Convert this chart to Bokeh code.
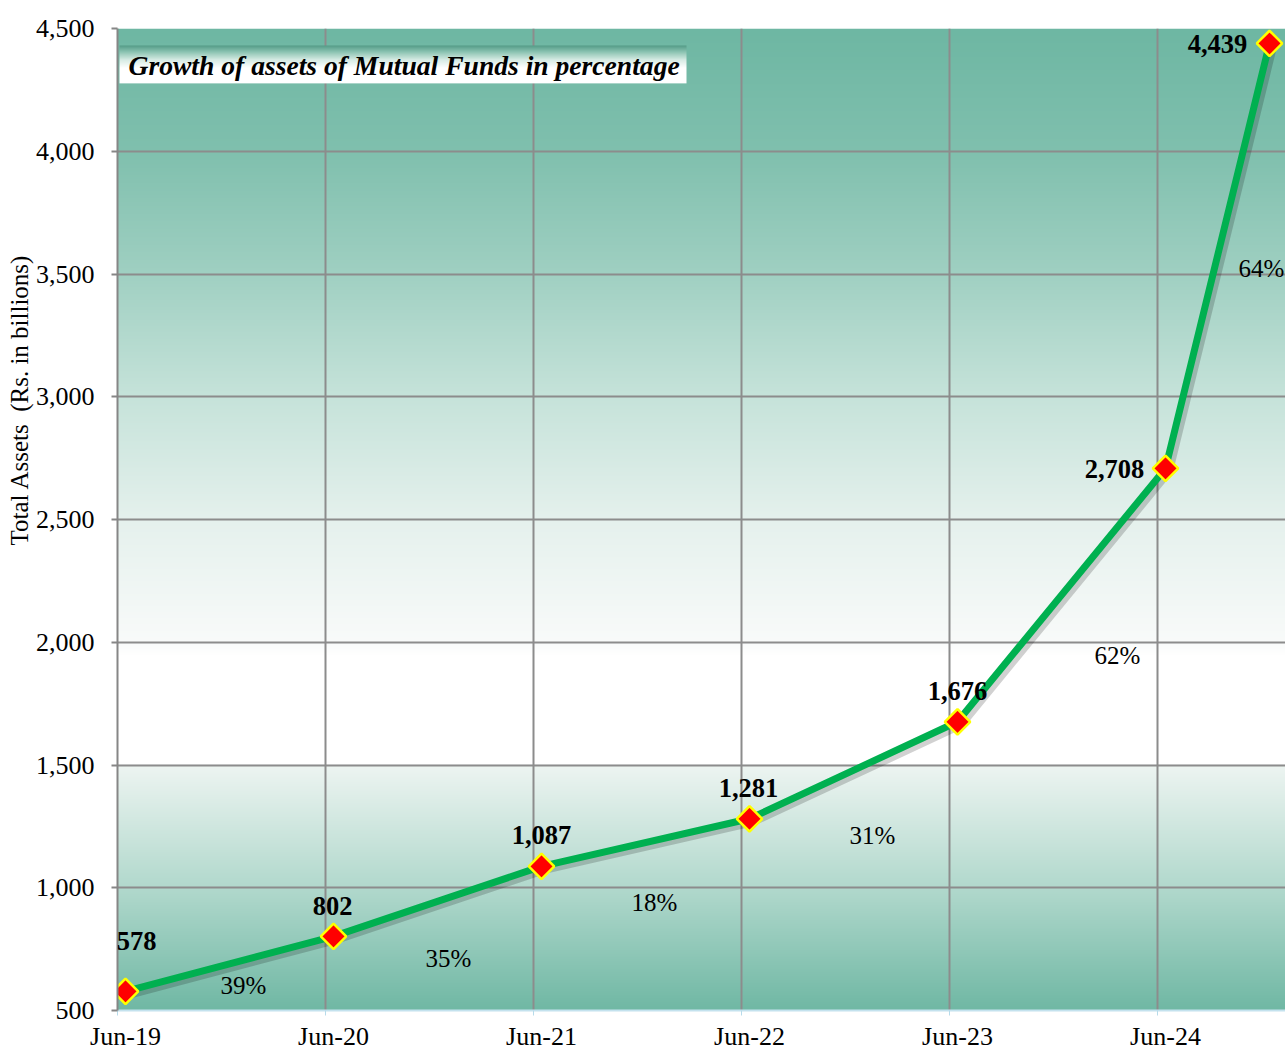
import numpy as np
from bokeh.plotting import figure
from bokeh.models import FixedTicker, Label, LabelSet, ColumnDataSource, Title
from bokeh.core.properties import value
from bokeh.embed import file_html
from bokeh.resources import INLINE

# ---------------- data ----------------
periods = ["Jun-19", "Jun-20", "Jun-21", "Jun-22", "Jun-23", "Jun-24", "Dec-24"]
assets = [578, 802, 1087, 1281, 1676, 2708, 4439]
asset_labels = ["578", "802", "1,087", "1,281", "1,676", "2,708", "4,439"]
growth_labels = ["39%", "35%", "18%", "31%", "62%", "64%"]
x_tick_labels = ["Jun-19", "Jun-20", "Jun-21", "Jun-22", "Jun-23", "Jun-24"]
y_ticks = [500, 1000, 1500, 2000, 2500, 3000, 3500, 4000, 4500]

# ---------------- styling / layout ----------------
MONTHS = {"Jan": 1, "Feb": 2, "Mar": 3, "Apr": 4, "May": 5, "Jun": 6,
          "Jul": 7, "Aug": 8, "Sep": 9, "Oct": 10, "Nov": 11, "Dec": 12}
def period_to_x(p):
    m, y = p.split("-")
    return (2000 + int(y) - 2019) + (MONTHS[m] - 6) / 12.0

xs = [period_to_x(p) for p in periods]
tick_x = [period_to_x(p) for p in x_tick_labels]

W, H = 1285, 1053
L, R, T, B = 117, 1285, 28, 1012
PX_PER_UNIT = 208.0
X0 = (L - 125) / PX_PER_UNIT
X1 = X0 + (R - L) / PX_PER_UNIT
Y0, Y1 = 500, 4500
def px_x(px): return X0 + (px - L) / PX_PER_UNIT
def px_y(py): return Y0 + (B - py) * (Y1 - Y0) / (B - T)
UNIT_PER_PX_Y = (Y1 - Y0) / (B - T)

GRID_OFF = 8 / PX_PER_UNIT
grid_x = [t - GRID_OFF for t in tick_x]

label_dx = [11, -1, 0, -1, 0, -51, -52]
label_dy = [50, 30, 31, 31, 31, -1, -1]   # pixels upward
growth_pos_px = [(243, 987), (448, 960), (654, 904), (872, 837), (1117, 656), (1261, 268)]

FONT = "Liberation Serif"

p = figure(width=W, height=H, x_range=(X0, X1), y_range=(Y0, Y1),
           output_backend="svg", toolbar_location=None,
           min_border_left=L, min_border_right=0, min_border_top=T,
           min_border_bottom=H - B)
p.outline_line_color = None
p.background_fill_color = "white"
p.border_fill_color = "white"

def gradient_image(stops, n, width=16):
    sv = np.array([s[0] for s in stops], dtype=float)
    sc = np.array([s[1] for s in stops], dtype=float)
    pos = np.linspace(sv[0], sv[-1], n)
    img = np.empty((n, width), dtype=np.uint32)
    view = img.view(dtype=np.uint8).reshape((n, width, 4))
    for k in range(3):
        view[:, :, k] = np.interp(pos, sv, sc[:, k]).astype(np.uint8)[:, None]
    view[:, :, 3] = 255
    return img

# background gradient (value -> colour), row 0 at bottom
bg_stops = [
    (500, (112, 184, 164)),
    (1000, (178, 217, 205)),
    (1499, (238, 245, 242)),
    (1501, (255, 255, 255)),
    (1950, (255, 255, 255)),
    (2000, (249, 251, 250)),
    (2500, (229, 241, 237)),
    (3000, (198, 227, 218)),
    (3500, (160, 208, 194)),
    (4000, (128, 192, 174)),
    (4500, (110, 183, 163)),
]
bg = p.image_rgba(image=[gradient_image(bg_stops, 984)], x=X0, y=Y0, dw=X1 - X0, dh=Y1 - Y0)
bg.level = "image"

# grid
p.xgrid.ticker = FixedTicker(ticks=grid_x)
p.ygrid.ticker = FixedTicker(ticks=y_ticks)
for g in (p.xgrid, p.ygrid):
    g.grid_line_color = "#8c8c8c"
    g.grid_line_width = 2

# axes
p.xaxis.ticker = FixedTicker(ticks=tick_x, minor_ticks=grid_x)
p.xaxis.major_label_overrides = {t: s for t, s in zip(tick_x, x_tick_labels)}
p.xaxis.major_tick_line_color = None
p.xaxis.major_tick_out = 0
p.xaxis.major_tick_in = 0
p.xaxis.minor_tick_line_color = "#b7dbea"
p.xaxis.minor_tick_out = 5
p.xaxis.minor_tick_in = 0
p.xaxis.axis_line_color = "#c4e2ee"
p.xaxis.axis_line_width = 2
p.xaxis.major_label_standoff = 6

p.yaxis.ticker = FixedTicker(ticks=y_ticks)
p.yaxis.major_label_overrides = {v: f"{v:,}" for v in y_ticks}
p.yaxis.axis_line_color = "#868686"
p.yaxis.axis_line_width = 2
p.yaxis.major_tick_line_color = "#868686"
p.yaxis.major_tick_line_width = 2
p.yaxis.major_tick_out = 6
p.yaxis.major_tick_in = 0
p.yaxis.minor_tick_line_color = None
p.yaxis.major_label_standoff = 17

for ax in (p.xaxis, p.yaxis):
    ax.major_label_text_font = FONT
    ax.major_label_text_font_size = "26px"
    ax.major_label_text_color = "black"

# y-axis title as a side title
p.add_layout(Title(text="Total Assets\u00a0 (Rs. in billions)", align="left", offset=465,
                   text_font=FONT, text_font_size="25px", text_font_style="normal",
                   text_color="black", standoff=0), "left")

# title box with gradient top
tb_l, tb_r, tb_t, tb_b = px_x(119), px_x(686), 45, 83
tb_stops = [(83, (255, 255, 255)), (68, (255, 255, 255)), (60, (215, 236, 229)),
            (52, (140, 196, 178)), (45, (78, 152, 132))]
tb_stops = [(-s, c) for s, c in tb_stops]
tb = p.image_rgba(image=[gradient_image(tb_stops, 38)], x=tb_l, y=px_y(tb_b),
                  dw=tb_r - tb_l, dh=px_y(tb_t) - px_y(tb_b))
p.add_layout(Label(x=128 - L, y=B - 67, x_units="screen", y_units="screen",
                   text="Growth of assets of Mutual Funds in percentage",
                   text_font=FONT, text_font_style="bold italic", text_font_size="27.6px",
                   text_baseline="middle", text_align="left", text_color="black"))

# line shadow + line
p.line([x + 3 / PX_PER_UNIT for x in xs], [a - 3 * UNIT_PER_PX_Y for a in assets],
       line_color="black", line_alpha=0.18, line_width=9, line_join="round")
p.line(xs, assets, line_color="#00B050", line_width=7, line_join="round")
p.scatter(xs, assets, marker="square", angle=np.pi / 4, size=18,
          fill_color="#FF0000", line_color="#FFFF00", line_width=2.5)

# data labels
src = ColumnDataSource(dict(x=xs, y=assets, t=asset_labels, dx=label_dx, dy=label_dy))
p.add_layout(LabelSet(x="x", y="y", text="t", x_offset="dx", y_offset="dy", source=src,
                      text_font=FONT, text_font_style="bold", text_font_size="26.5px",
                      text_align="center", text_baseline="middle", text_color="black"))

# growth labels
gsrc = ColumnDataSource(dict(x=[px_x(a) for a, b in growth_pos_px],
                             y=[px_y(b) for a, b in growth_pos_px], t=growth_labels))
p.text(x="x", y="y", text="t", source=gsrc, text_font=value(FONT),
       text_font_size="25px", text_align="center", text_baseline="middle", text_color="black")

open("out.html", "w").write(file_html(p, INLINE))
